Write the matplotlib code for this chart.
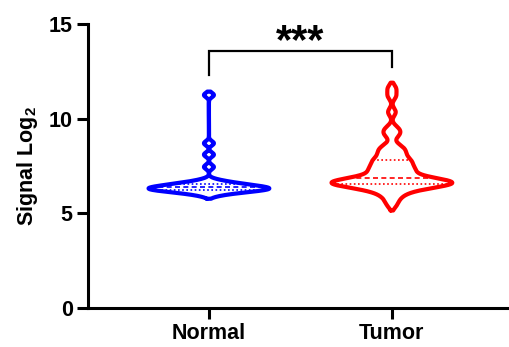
import numpy as np
import matplotlib
matplotlib.use("Agg")
import matplotlib.pyplot as plt

plt.rcParams['font.family'] = ['Liberation Sans', 'DejaVu Sans']
plt.rcParams['font.weight'] = 'bold'
plt.rcParams['mathtext.fontset'] = 'custom'
plt.rcParams['mathtext.bf'] = 'Liberation Sans:bold'
plt.rcParams['mathtext.rm'] = 'Liberation Sans:bold'

categories = ["Normal", "Tumor"]
colors = ["#0000FF", "#FF0000"]

normal_values = [5.95, 6.05, 6.1, 6.15, 6.18, 6.2, 6.22, 6.25, 6.27, 6.3, 6.3,
                 6.32, 6.35, 6.37, 6.4, 6.42, 6.45, 6.48, 6.5, 6.55, 6.6, 6.65,
                 6.75, 7.45, 8.1, 8.7, 11.25]
tumor_values = [5.45, 5.75, 5.95, 6.1, 6.2, 6.28, 6.35, 6.4, 6.44, 6.47, 6.5, 6.52,
                6.55, 6.58, 6.6, 6.62, 6.64, 6.66, 6.68, 6.7, 6.73, 6.76, 6.8, 6.85,
                6.9, 6.95, 7.05, 7.15, 7.25, 7.3, 7.35, 7.45, 7.55, 7.65, 7.75, 7.8,
                7.9, 8.05, 8.2, 8.3, 8.45, 8.6, 9.1, 9.3, 9.5, 10.35, 11.2, 11.6]
datasets = [normal_values, tumor_values]
bandwidths = [0.12, 0.2]
significance = "***"

y_ticks = [0, 5, 10, 15]

fig = plt.figure(figsize=(5.09, 3.47), dpi=100)
ax = fig.add_axes([88/509, 1-308/347, (509-88)/509, (308-24)/347])

half_width = 0.33

def kde(data, grid, h):
    d = np.asarray(data)[:, None]
    return np.exp(-0.5*((grid[None, :]-d)/h)**2).sum(axis=0)

for i, (data, col, h) in enumerate(zip(datasets, colors, bandwidths)):
    data = np.asarray(data)
    grid = np.linspace(data.min()-1.5*h, data.max()+1.5*h, 800)
    dens = kde(data, grid, h)
    scale = half_width / dens.max()
    w = dens*scale
    xs = np.concatenate([i - w, (i + w)[::-1], [i - w[0]]])
    ys = np.concatenate([grid, grid[::-1], [grid[0]]])
    ax.plot(xs, ys, color=col, lw=3.0, solid_joinstyle='round', solid_capstyle='round', zorder=3)
    q1, med, q3 = np.percentile(data, [25, 50, 75])
    for q, ls in [(q1, (0, (1, 1.5))), (med, (0, (3, 2))), (q3, (0, (1, 1.5)))]:
        wq = kde(data, np.array([q]), h)[0]*scale
        ax.plot([i - wq, i + wq], [q, q], color=col, lw=1.2, linestyle=ls, zorder=2)

# significance bracket
ax.plot([0, 0, 1, 1], [12.3, 13.6, 13.6, 12.75], color='black', lw=1.6,
        solid_joinstyle='miter', clip_on=False)
ax.text(0.5, 13.0, significance, ha='center', va='bottom', fontsize=30, fontweight='bold')

ax.set_xlim(-0.661, 1.64)
ax.set_ylim(0, 15)
ax.set_xticks([0, 1])
ax.set_xticklabels(categories, fontsize=15.5, fontweight='bold')
ax.set_yticks(y_ticks)
ax.set_yticklabels([str(t) for t in y_ticks], fontsize=15.5, fontweight='bold')
ax.set_ylabel("Signal Log$_\\mathbf{2}$", fontsize=15.5, fontweight='bold', labelpad=6)
for s in ['top', 'right']:
    ax.spines[s].set_visible(False)
for s in ['left', 'bottom']:
    ax.spines[s].set_linewidth(2.2)
ax.tick_params(axis='both', direction='out', length=8, width=2.2, pad=3)

fig.savefig("out.png", dpi=100)
